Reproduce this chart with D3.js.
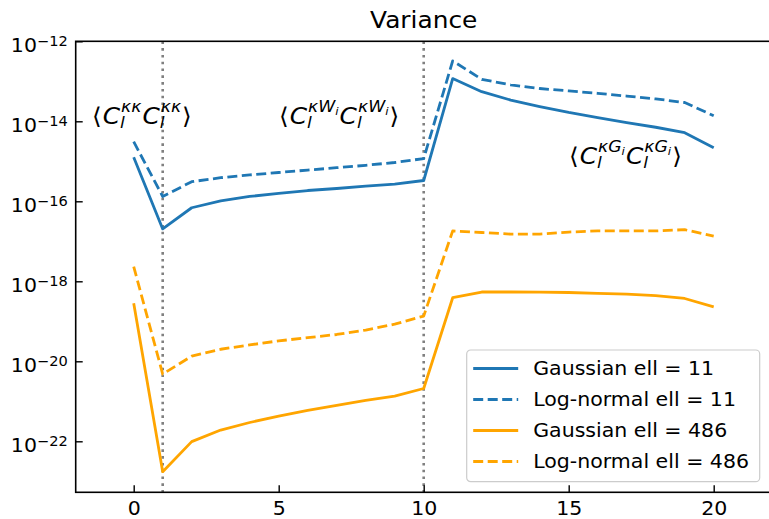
<!DOCTYPE html>
<html>
<head>
<meta charset="utf-8">
<script src="https://cdn.jsdelivr.net/npm/d3@7"></script>
<style>
body { margin: 0; background: #fff; }
text { font-family: "DejaVu Sans", sans-serif; }
</style>
</head>
<body>
<svg id="chart" width="769" height="519"></svg>
<script>
"use strict";

// x positions (bin index)
var ells = [0,1,2,3,4,5,6,7,8,9,10,11,12,13,14,15,16,17,18,19,20];

var gauss11 = [1.26e-15,2.04e-17,6.9e-17,1.02e-16,1.32e-16,1.58e-16,1.86e-16,2.09e-16,2.4e-16,2.69e-16,3.31e-16,
	1.17e-13,5.5e-14,3.39e-14,2.34e-14,1.66e-14,1.23e-14,9.3e-15,7.1e-15,5.2e-15,2.19e-15];
var logn11 = [3.09e-15,1.32e-16,3.09e-16,3.89e-16,4.57e-16,5.25e-16,6.03e-16,6.92e-16,7.94e-16,9.33e-16,1.17e-15,
	3.24e-13,1.12e-13,8.1e-14,6.6e-14,5.75e-14,5.0e-14,4.27e-14,3.63e-14,2.95e-14,1.38e-14];
var gauss486 = [2.82e-19,1.74e-23,9.8e-23,1.91e-22,2.95e-22,4.27e-22,5.9e-22,7.9e-22,1.05e-21,1.35e-21,2.09e-21,
	3.89e-19,5.4e-19,5.4e-19,5.35e-19,5.25e-19,5.0e-19,4.8e-19,4.37e-19,3.72e-19,2.29e-19];
var logn486 = [2.34e-18,4.8e-21,1.35e-20,2.0e-20,2.57e-20,3.24e-20,3.89e-20,4.68e-20,6.03e-20,8.5e-20,1.35e-19,
	1.82e-17,1.66e-17,1.51e-17,1.51e-17,1.7e-17,1.82e-17,1.82e-17,1.82e-17,1.95e-17,1.35e-17];

var seriesNames = ["Gaussian ell = 11","Log-normal ell = 11","Gaussian ell = 486","Log-normal ell = 486"];
var seriesColors = ["#1f77b4","#1f77b4","#ffa500","#ffa500"];
var seriesDashed = [false,true,false,true];
var seriesValues = [gauss11, logn11, gauss486, logn486];

var xTicks = [0,5,10,15,20];
var yTickExp = [-22,-20,-18,-16,-14,-12];
var vlines = [1,10];

var svg = d3.select("#chart");
var pLeft = 75.7, pRight = 771.7, pTop = 41.3, pBottom = 492.3;
var K = 1.08; // the picture is a bit wider than tall, stretch text to match

var x = d3.scaleLinear().domain([-2,22]).range([pLeft,pRight]);
var y = d3.scaleLog().domain([Math.pow(10,-23.275),1e-12]).range([pBottom,pTop]);

// title
svg.append("text").attr("x",(pLeft+pRight)/2).attr("y",28)
	.attr("text-anchor","middle").style("font-size","23px").text("Variance");

// dotted separators
vlines.forEach(function(v){
	svg.append("line").attr("x1",x(v)).attr("x2",x(v)).attr("y1",pTop).attr("y2",pBottom)
		.attr("stroke","#808080").attr("stroke-width",2.6).attr("stroke-dasharray","2.6,4.2");
});

// lines
var line = d3.line().x(function(d,i){ return x(ells[i]); }).y(function(d){ return y(d); });
for (var s=0; s<seriesValues.length; s++) {
	svg.append("path").datum(seriesValues[s]).attr("d",line)
		.attr("fill","none").attr("stroke",seriesColors[s]).attr("stroke-width",2.8)
		.attr("stroke-linejoin","round")
		.attr("stroke-dasharray", seriesDashed[s] ? "10,4.5" : null);
}

// axes (ticks inward)
var xAxis = svg.append("g").attr("transform","translate(0,"+pBottom+")")
	.call(d3.axisBottom(x).tickValues(xTicks).tickSize(-7).tickPadding(9).tickFormat(d3.format("d")));
xAxis.selectAll("text").style("font-size","19px").attr("fill","#000");

var yAxis = svg.append("g").attr("transform","translate("+pLeft+",0)")
	.call(d3.axisLeft(y).tickValues(yTickExp.map(function(e){ return Math.pow(10,e); })).tickSize(-7).tickPadding(8).tickFormat(""));
yAxis.selectAll(".tick").each(function(d,i){
	var t = d3.select(this).select("text").attr("dy","0.55em").style("font-size","19px").attr("fill","#000");
	t.text(null);
	t.append("tspan").text("10");
	t.append("tspan").attr("dy","-0.5em").style("font-size","13.5px").text("\u2212"+Math.abs(yTickExp[i]));
});

[xAxis, yAxis].forEach(function(a){
	a.select(".domain").remove();
	a.selectAll(".tick line").attr("stroke","#000").attr("stroke-width",1.4);
});

// spines
svg.append("rect").attr("x",pLeft).attr("y",pTop).attr("width",pRight-pLeft).attr("height",pBottom-pTop)
	.attr("fill","none").attr("stroke","#000").attr("stroke-width",1.6);

// legend
var lg = svg.append("g").attr("transform","translate(466.7,350)");
lg.append("rect").attr("width",293).attr("height",131.7).attr("rx",4)
	.attr("fill","#fff").attr("fill-opacity",0.8).attr("stroke","#ccc").attr("stroke-width",1.2);
seriesNames.forEach(function(n,i){
	var ry = 18.5 + i*31;
	lg.append("line").attr("x1",6.5).attr("x2",51.5).attr("y1",ry).attr("y2",ry)
		.attr("stroke",seriesColors[i]).attr("stroke-width",2.8)
		.attr("stroke-dasharray", seriesDashed[i] ? "10,4.5" : null);
	lg.append("text").attr("x",66.5).attr("y",ry+7).style("font-size","19px").text(n);
});

// widen all plain text around its anchor
svg.selectAll("text").each(function(){
	var t = d3.select(this);
	var tx = +t.attr("x") || 0, ty = +t.attr("y") || 0;
	t.attr("transform","translate("+tx+","+ty+") scale("+K+",1) translate("+(-tx)+","+(-ty)+")");
});

// math annotations
function textWidth(str, size, italic) {
	var t = svg.append("text").style("font-size",size+"px").style("font-style",italic?"italic":"normal").text(str);
	var w = t.node().getComputedTextLength();
	t.remove();
	return w*K;
}
function put(str, px, py, size, italic) {
	svg.append("text").attr("x",px).attr("y",py).style("font-size",size+"px")
		.style("font-style",italic?"italic":"normal")
		.attr("transform","translate("+px+","+py+") scale("+K+",1) translate("+(-px)+","+(-py)+")")
		.text(str);
	return textWidth(str,size,italic);
}
function corr(px, py, sup, supSub) {
	var cur = px;
	cur += put("\u27e8",cur,py,23,false) + 1;
	for (var k=0;k<2;k++) {
		cur += put("C",cur,py,23,true);
		var ws = put(sup,cur+1,py-12,16,true);
		if (supSub) ws += put(supSub,cur+1+ws,py-9,11,true);
		put("l",cur,py+4,16,true);
		cur += ws + 2;
	}
	put("\u27e9",cur,py,23,false);
}
corr(92,124,"\u03ba\u03ba",null);
corr(279,124,"\u03baW","i");
corr(569,164,"\u03baG","i");
</script>
</body>
</html>
